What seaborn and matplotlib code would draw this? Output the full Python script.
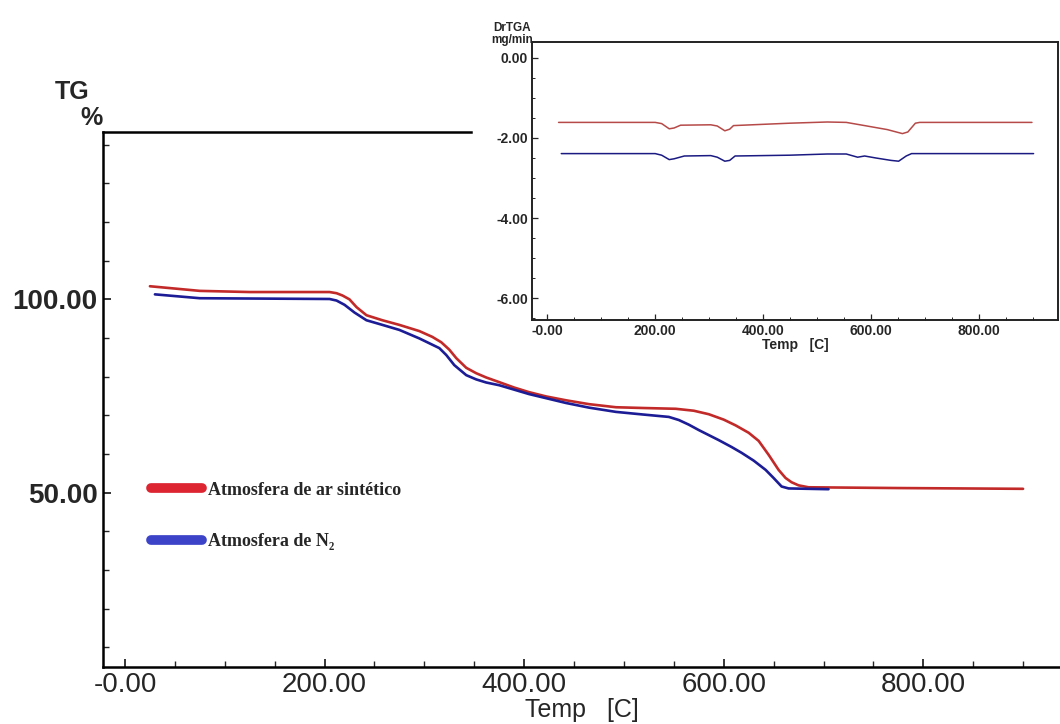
import numpy as np
import pandas as pd
import seaborn as sns
import matplotlib

matplotlib.use("Agg")
import matplotlib.pyplot as plt  # noqa: E402
from matplotlib.lines import Line2D  # noqa: E402
from matplotlib.ticker import MultipleLocator, FormatStrFormatter  # noqa: E402

# ---------------------------------------------------------------------------
# Data (TG curves, % vs temperature)
# ---------------------------------------------------------------------------
tg_air_temp = [25, 75, 125, 205, 212, 218, 225, 232, 242, 258, 275, 295, 308, 317,
               325, 332, 342, 352, 362, 375, 390, 405, 422, 442, 465, 492, 520,
               552, 570, 585, 600, 612, 625, 635, 645, 655, 662, 668, 675, 685,
               775, 900]
tg_air_val = [103.4, 102.2, 101.9, 101.9, 101.6, 101.0, 100.0, 98.0, 95.9, 94.6,
              93.4, 91.8, 90.3, 88.9, 87.0, 84.8, 82.3, 80.9, 79.8, 78.6, 77.2,
              76.0, 74.9, 73.9, 72.9, 72.1, 71.9, 71.7, 71.2, 70.3, 68.9, 67.4,
              65.5, 63.4, 59.8, 55.9, 53.8, 52.7, 51.9, 51.4, 51.2, 51.0]

tg_n2_temp = [30, 75, 205, 212, 220, 230, 242, 258, 275, 295, 315, 322, 330, 342,
              352, 362, 375, 405, 442, 465, 492, 520, 545, 555, 565, 575, 585,
              595, 608, 618, 630, 642, 650, 658, 665, 705]
tg_n2_val = [101.3, 100.3, 100.1, 99.7, 98.6, 96.6, 94.6, 93.4, 92.1, 89.9, 87.4,
             85.6, 83.0, 80.4, 79.3, 78.5, 77.8, 75.5, 73.2, 72.0, 70.9, 70.2,
             69.6, 68.8, 67.6, 66.2, 64.9, 63.6, 61.8, 60.3, 58.3, 55.9, 53.8,
             51.6, 51.1, 50.9]

# DrTGA curves (mg/min vs temperature) for the inset
dr_air_temp = [21, 200, 212, 226, 235, 247, 303, 315, 329, 338, 345, 449, 519,
               554, 588, 630, 658, 668, 682, 690, 898]
dr_air_val = [-1.61, -1.61, -1.64, -1.77, -1.75, -1.68, -1.67, -1.70, -1.82, -1.78,
              -1.69, -1.63, -1.60, -1.61, -1.69, -1.79, -1.89, -1.85, -1.63, -1.61,
              -1.61]

dr_n2_temp = [26, 200, 212, 226, 235, 254, 303, 315, 329, 338, 348, 449, 519, 554,
              575, 588, 609, 637, 651, 665, 675, 901]
dr_n2_val = [-2.39, -2.39, -2.43, -2.54, -2.52, -2.45, -2.44, -2.48, -2.58, -2.56,
             -2.45, -2.43, -2.40, -2.40, -2.48, -2.45, -2.50, -2.56, -2.58, -2.45,
             -2.39, -2.39]

labels = ["Atmosfera de ar sintético", "Atmosfera de N\u2082"]
main_colors = ["#c22a2a", "#1c1c96"]
inset_colors = ["#b54a48", "#1a1a82"]
legend_colors = ["#dc2530", "#3c43c8"]

# ---------------------------------------------------------------------------
# Frames
# ---------------------------------------------------------------------------
tg = pd.concat([
    pd.DataFrame({"temp": tg_air_temp, "value": tg_air_val, "atm": labels[0]}),
    pd.DataFrame({"temp": tg_n2_temp, "value": tg_n2_val, "atm": labels[1]}),
])
dr = pd.concat([
    pd.DataFrame({"temp": dr_air_temp, "value": dr_air_val, "atm": labels[0]}),
    pd.DataFrame({"temp": dr_n2_temp, "value": dr_n2_val, "atm": labels[1]}),
])

sns.set_style("white")
plt.rcParams["font.family"] = ["Liberation Sans", "DejaVu Sans"]
plt.rcParams["xtick.direction"] = "in"
plt.rcParams["ytick.direction"] = "in"

fig = plt.figure(figsize=(10.6, 7.24), dpi=100)

# ---------------------------------------------------------------------------
# Main TG plot
# ---------------------------------------------------------------------------
ax = fig.add_axes([0.0972, 0.0792, 0.9028, 0.7385])
sns.lineplot(data=tg, x="temp", y="value", hue="atm",
             palette=dict(zip(labels, main_colors)), sort=False,
             estimator=None, legend=False, linewidth=1.9, ax=ax)
ax.set_xlim(-22, 937)
ax.set_ylim(5, 143.3)
ax.spines["right"].set_visible(False)
ax.spines["top"].set_bounds(-22, 347)
for s in ax.spines.values():
    s.set_linewidth(1.8)
    s.set_color("black")
ax.xaxis.set_minor_locator(MultipleLocator(50))
ax.yaxis.set_major_locator(MultipleLocator(50))
ax.yaxis.set_minor_locator(MultipleLocator(10))
ax.yaxis.set_major_formatter(FormatStrFormatter("%.2f"))
ax.set_xticks([0, 200, 400, 600, 800])
ax.set_xticklabels(["-0.00", "200.00", "400.00", "600.00", "800.00"])
ax.tick_params(axis="both", which="major", length=6, width=1.3, labelsize=20, pad=4,
               left=True, bottom=True)
ax.tick_params(axis="both", which="minor", length=4, width=1.0, left=True, bottom=True)
for t in ax.get_yticklabels():
    t.set_fontweight("bold")
ax.set_xlabel("Temp   [C]", fontsize=18, labelpad=0)
ax.set_ylabel("")
fig.text(0.052, 0.873, "TG", fontsize=18, fontweight="bold", ha="left", va="center")
fig.text(0.076, 0.837, "%", fontsize=18, fontweight="bold", ha="left", va="center")

handles = [Line2D([0], [0], color=c, linewidth=7, solid_capstyle="round")
           for c in legend_colors]
leg = ax.legend(handles, labels, loc="upper left", bbox_to_anchor=(0.134, 0.347),
                bbox_transform=fig.transFigure, frameon=False, handlelength=2.8,
                handletextpad=0.35, labelspacing=1.9, borderpad=0,
                prop={"family": ["Liberation Serif", "DejaVu Serif"],
                      "weight": "bold", "size": 13})

# ---------------------------------------------------------------------------
# Inset DrTGA plot
# ---------------------------------------------------------------------------
ins = fig.add_axes([0.502, 0.558, 0.496, 0.384])
ins.set_facecolor("white")
sns.lineplot(data=dr, x="temp", y="value", hue="atm",
             palette=dict(zip(labels, inset_colors)), sort=False,
             estimator=None, legend=False, linewidth=1.1, ax=ins)
ins.set_xlim(-28, 946)
ins.set_ylim(-6.55, 0.4)
for s in ins.spines.values():
    s.set_linewidth(1.4)
    s.set_color("#222222")
ins.set_xticks([0, 200, 400, 600, 800])
ins.set_xticklabels(["-0.00", "200.00", "400.00", "600.00", "800.00"])
ins.xaxis.set_minor_locator(MultipleLocator(50))
ins.yaxis.set_major_locator(MultipleLocator(2))
ins.yaxis.set_minor_locator(MultipleLocator(0.5))
ins.yaxis.set_major_formatter(FormatStrFormatter("%.2f"))
ins.tick_params(axis="both", which="major", length=4, width=0.9, labelsize=10, pad=3,
                left=True, bottom=True)
ins.tick_params(axis="both", which="minor", length=2.5, width=0.7, left=True, bottom=True)
for t in ins.get_xticklabels() + ins.get_yticklabels():
    t.set_fontweight("bold")
ins.set_xlabel("Temp   [C]", fontsize=10, fontweight="bold", labelpad=0)
ins.set_ylabel("")
fig.text(0.483, 0.962, "DrTGA", fontsize=8.5, fontweight="bold", ha="center", va="center")
fig.text(0.483, 0.945, "mg/min", fontsize=8.5, fontweight="bold", ha="center", va="center")

fig.savefig("out.png", dpi=100, facecolor="white")
